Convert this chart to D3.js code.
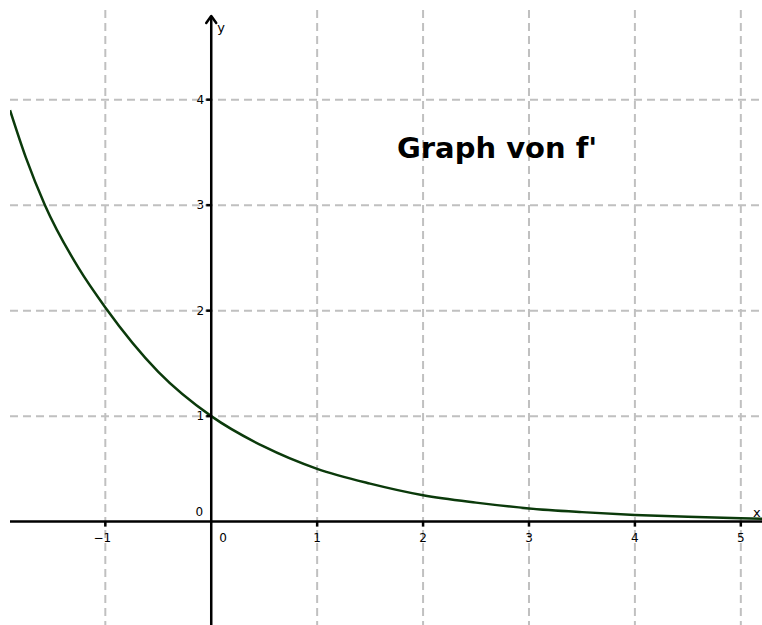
<!DOCTYPE html>
<html>
<head>
<meta charset="utf-8">
<script src="https://cdn.jsdelivr.net/npm/d3@7"></script>
<style>
  body { margin: 0; background: #fff; }
  svg { display: block; font-family: "DejaVu Sans", sans-serif; }
</style>
</head>
<body>
<div id="plt"></div>
<script>
// curve points (x, f'(x))
const curveX = [-1.9, -1.75, -1.57, -1.25, -1.0, -0.5, 0, 0.5, 1, 1.5, 2, 2.5, 3, 3.5, 4, 4.5, 5, 5.2];
const curveY = [3.9, 3.45, 3.0, 2.4, 2.03, 1.42, 1.0, 0.71, 0.5, 0.36, 0.25, 0.18, 0.125, 0.09, 0.063, 0.045, 0.032, 0.028];
const xTicks = [-1, 1, 2, 3, 4, 5];
const yTicks = [1, 2, 3, 4];
const title = "Graph von f'";

const width = 762, height = 625;
const view = { left: 10, top: 10, right: 762, bottom: 625 };

const svg = d3.select("#plt").append("svg")
    .attr("width", width)
    .attr("height", height);

const x = d3.scaleLinear().domain([-1.9, 5.2]).range([view.left, view.right]);
const y = d3.scaleLinear().domain([-0.98, 4.85]).range([view.bottom, view.top]);

svg.append("defs").append("clipPath").attr("id", "clip")
  .append("rect")
    .attr("x", view.left).attr("y", view.top)
    .attr("width", view.right - view.left).attr("height", view.bottom - view.top);

const plot = svg.append("g").attr("clip-path", "url(#clip)");

// dashed grid
plot.append("g").selectAll("line")
  .data(xTicks)
  .enter().append("line")
    .attr("x1", d => x(d)).attr("x2", d => x(d))
    .attr("y1", view.top).attr("y2", view.bottom)
    .attr("stroke", "#c0c0c0").attr("stroke-width", 2)
    .attr("stroke-dasharray", "8,5");

plot.append("g").selectAll("line")
  .data(yTicks)
  .enter().append("line")
    .attr("y1", d => y(d)).attr("y2", d => y(d))
    .attr("x1", view.left).attr("x2", view.right)
    .attr("stroke", "#c0c0c0").attr("stroke-width", 2)
    .attr("stroke-dasharray", "8,5");

// axes
const x0 = x(0), y0 = y(0);
svg.append("line")
    .attr("x1", view.left).attr("x2", view.right)
    .attr("y1", y0).attr("y2", y0)
    .attr("stroke", "#000").attr("stroke-width", 2.5);
svg.append("line")
    .attr("x1", x0).attr("x2", x0)
    .attr("y1", 16).attr("y2", view.bottom)
    .attr("stroke", "#000").attr("stroke-width", 2.5);

// arrow on y axis
svg.append("path")
    .attr("d", `M${x0 - 5},${23} L${x0},${16} L${x0 + 5},${23}`)
    .attr("fill", "none").attr("stroke", "#000").attr("stroke-width", 2.5)
    .attr("stroke-linecap", "round").attr("stroke-linejoin", "round");

// tick marks
svg.append("g").selectAll("line")
  .data(xTicks)
  .enter().append("line")
    .attr("x1", d => x(d)).attr("x2", d => x(d))
    .attr("y1", y0).attr("y2", y0 + 5)
    .attr("stroke", "#000").attr("stroke-width", 2.5);
svg.append("g").selectAll("line")
  .data(yTicks)
  .enter().append("line")
    .attr("x1", x0 - 5).attr("x2", x0)
    .attr("y1", d => y(d)).attr("y2", d => y(d))
    .attr("stroke", "#000").attr("stroke-width", 2.5);

// tick labels
svg.append("g").selectAll("text")
  .data(xTicks)
  .enter().append("text")
    .attr("x", d => x(d) - (d < 0 ? 3 : 0))
    .attr("y", y0 + 20)
    .attr("text-anchor", "middle")
    .attr("font-size", 12)
    .text(d => d < 0 ? "\u2212" + Math.abs(d) : d);
svg.append("g").selectAll("text")
  .data(yTicks)
  .enter().append("text")
    .attr("x", x0 - 7)
    .attr("y", d => y(d) + 4)
    .attr("text-anchor", "end")
    .attr("font-size", 12)
    .text(d => d);
svg.append("text").attr("x", x0 + 8).attr("y", y0 + 20).attr("font-size", 12).text("0");
svg.append("text").attr("x", x0 - 8).attr("y", y0 - 6).attr("text-anchor", "end").attr("font-size", 12).text("0");

// axis names
svg.append("text").attr("x", view.right - 9).attr("y", y0 - 5).attr("font-size", 13).text("x");
svg.append("text").attr("x", x0 + 6).attr("y", 32).attr("font-size", 13).text("y");

// the curve
const line = d3.line()
    .x((d, i) => x(curveX[i]))
    .y(d => y(d))
    .curve(d3.curveMonotoneX);

plot.append("path")
    .datum(curveY)
    .attr("d", line)
    .attr("fill", "none")
    .attr("stroke", "#0b3a0b")
    .attr("stroke-width", 2.5);

// title
svg.append("text")
    .attr("x", 397).attr("y", 158)
    .attr("font-size", 29)
    .attr("font-weight", "bold")
    .text(title);
</script>
</body>
</html>
